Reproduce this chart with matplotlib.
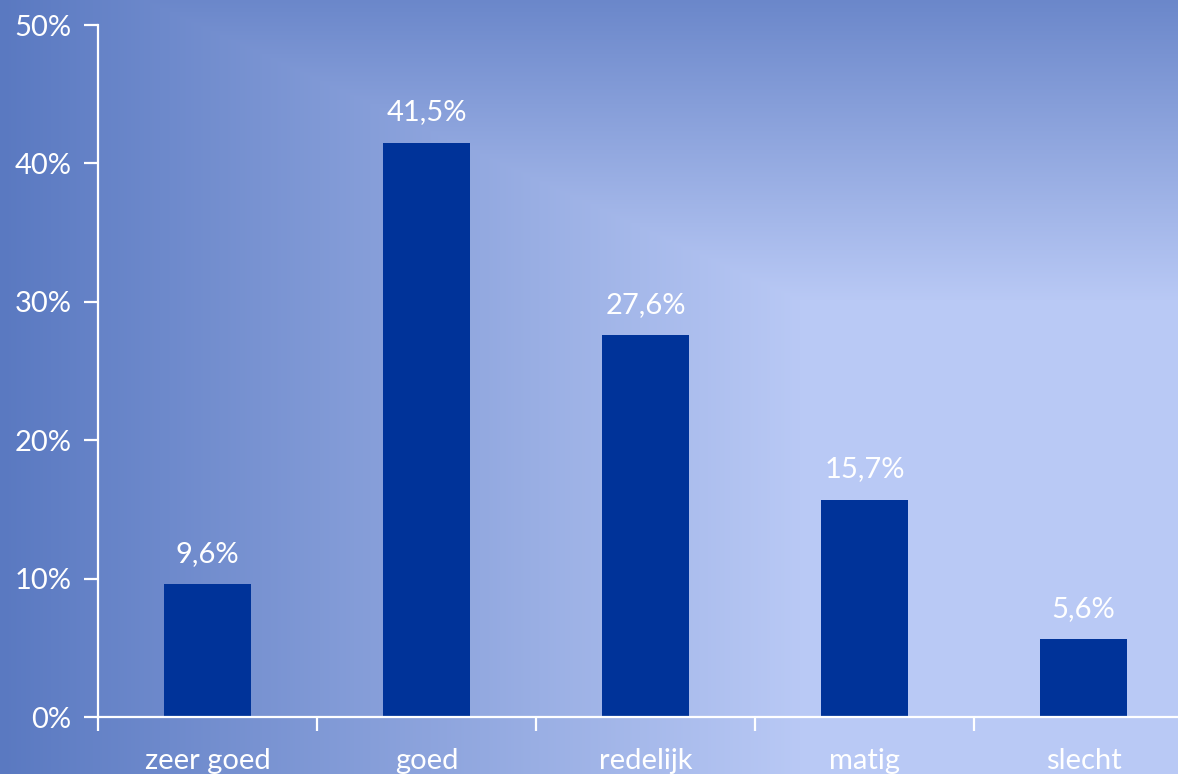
import numpy as np
import matplotlib
matplotlib.use("Agg")
import matplotlib.pyplot as plt
from matplotlib.ticker import FixedLocator, NullFormatter

categories = ["zeer goed", "goed", "redelijk", "matig", "slecht"]
values = [9.6, 41.5, 27.6, 15.7, 5.6]
value_labels = ["9,6%", "41,5%", "27,6%", "15,7%", "5,6%"]
yticks = [0, 10, 20, 30, 40, 50]
ytick_labels = ["0%", "10%", "20%", "30%", "40%", "50%"]

W, H = 1178, 774
fig = plt.figure(figsize=(W / 100, H / 100), dpi=100)
plt.rcParams['font.family'] = ['Lato', 'DejaVu Sans']

# background gradient
bg = fig.add_axes([0, 0, 1, 1])
yy, xx = np.mgrid[0:H, 0:W].astype(float)
t_h = np.clip((800 - xx) / 800, 0, 1)
t_v = 0.82 * np.clip((300 - yy) / 300, 0, 1)
t = np.maximum(t_h, t_v)[..., None]
light = np.array([185, 201, 245]) / 255
dark = np.array([90, 121, 193]) / 255
img = light * (1 - t) + dark * t
bg.imshow(img, aspect='auto', extent=[0, W, H, 0])
bg.set_axis_off()

left = 98 / W
bottom = (H - 717) / H
width = (219 * 5) / W
height = (717 - 25) / H
ax = fig.add_axes([left, bottom, width, height])
ax.patch.set_alpha(0)

x = np.arange(len(categories))
ax.bar(x, values, width=0.4, color='#003399', zorder=2)
ax.set_xlim(-0.5, len(categories) - 0.5)
ax.set_ylim(0, 50)

for xi, v, lab in zip(x, values, value_labels):
    ax.text(xi, v + 2.2, lab, ha='center', va='center', color='white', fontsize=21)

for s in ['top', 'right']:
    ax.spines[s].set_visible(False)
for s in ['left', 'bottom']:
    ax.spines[s].set_color('white')
    ax.spines[s].set_linewidth(1.6)

ax.set_yticks(yticks)
ax.set_yticklabels(ytick_labels, color='white', fontsize=21)
ax.tick_params(axis='y', colors='white', length=10, width=1.6, pad=9, labelcolor='white')

ax.xaxis.set_major_locator(FixedLocator(np.arange(-0.5, len(categories), 1.0)))
ax.xaxis.set_major_formatter(NullFormatter())
ax.xaxis.set_minor_locator(FixedLocator(x))
ax.set_xticklabels(categories, minor=True)
ax.tick_params(axis='x', which='major', colors='white', length=10, width=1.6)
ax.tick_params(axis='x', which='minor', length=0, pad=22, labelcolor='white', labelsize=21)

fig.savefig("out.png", dpi=100)
